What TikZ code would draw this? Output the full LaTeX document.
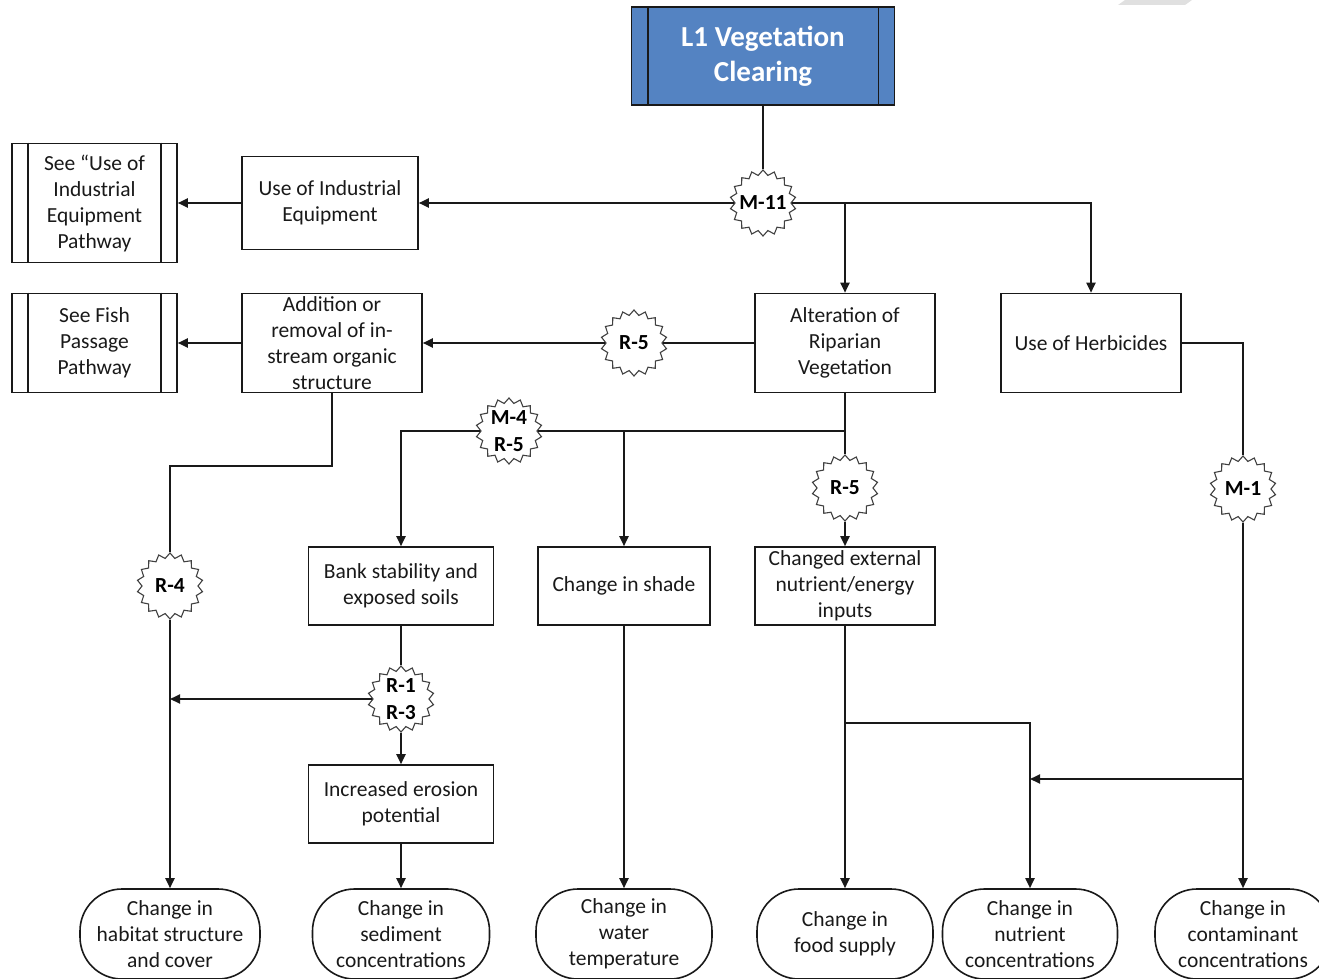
\documentclass[tikz,border=0pt]{standalone}
\usepackage{fontspec}
\setmainfont{Carlito}
\usetikzlibrary{shapes.geometric,arrows.meta}
\definecolor{titleblue}{RGB}{84,131,194}
\definecolor{ink}{RGB}{25,25,25}
\begin{document}
\begin{tikzpicture}[x=1pt,y=-1pt,
  box/.style={draw=ink, line width=1.6pt, align=center, inner sep=0pt,
    text=ink, font=\fontsize{21.5}{26}\selectfont},
  term/.style={box, rounded corners=42pt, minimum height=90pt},
  burst/.style={star, star points=18, star point ratio=1.18, minimum size=66pt,
    inner sep=0pt, draw=black!75, line width=1.1pt, fill=white},
  blabel/.style={font=\bfseries\fontsize{21.5}{27}\selectfont, align=center, text=black},
  link/.style={line width=1.9pt, draw=ink},
  arr/.style={link, -{Triangle[length=10pt,width=9pt]}}]
\useasboundingbox (0,0) rectangle (1319,979);
\clip (0,0) rectangle (1319,979);

% faint grey tab in the corner
\fill[black!12] (1118,5) -- (1125,0) -- (1192,0) -- (1185,5) -- cycle;

% top process
\node[box, fill=titleblue, minimum width=263pt, minimum height=98pt, text=white,
  font=\bfseries\fontsize{29}{35}\selectfont] (title) at (763,56) {L1 Vegetation\\Clearing};
\draw[line width=1.6pt, draw=ink] ([xshift=17pt]title.north west) -- ([xshift=17pt]title.south west)
  ([xshift=-17pt]title.north east) -- ([xshift=-17pt]title.south east);

% process boxes
\node[box, minimum width=176pt, minimum height=93pt] (indeq) at (330,203) {Use of Industrial\\Equipment};
\node[box, minimum width=180pt, minimum height=99pt] (add) at (332,343) {Addition or\\removal of in-\\stream organic\\structure};
\node[box, minimum width=180pt, minimum height=99pt] (alt) at (845,343) {Alteration of\\Riparian\\Vegetation};
\node[box, minimum width=180pt, minimum height=99pt] (herb) at (1091,343) {Use of Herbicides};
\node[box, minimum width=185pt, minimum height=78pt] (bank) at (401,586) {Bank stability and\\exposed soils};
\node[box, minimum width=172pt, minimum height=78pt] (shade) at (624,586) {Change in shade};
\node[box, minimum width=180pt, minimum height=78pt] (ext) at (845,586) {Changed external\\nutrient/energy\\inputs};
\node[box, minimum width=185pt, minimum height=78pt] (eros) at (401,804) {Increased erosion\\potential};

% referenced pathways
\node[box, minimum width=165pt, minimum height=119pt] (seeind) at (94.5,203) {See “Use of\\Industrial\\Equipment\\Pathway};
\node[box, minimum width=165pt, minimum height=99pt] (seefish) at (94.5,343) {See Fish\\Passage\\Pathway};
\foreach \n in {seeind,seefish}{
  \draw[line width=1.6pt, draw=ink] ([xshift=17pt]\n.north west) -- ([xshift=17pt]\n.south west)
    ([xshift=-17pt]\n.north east) -- ([xshift=-17pt]\n.south east);
}

% outcomes
\node[term, minimum width=180pt] (habit) at (170,934) {Change in\\habitat structure\\and cover};
\node[term, minimum width=177pt] (sed) at (401,934) {Change in\\sediment\\concentrations};
\node[term, minimum width=176pt] (water) at (624,934) {Change in\\water\\temperature};
\node[term, minimum width=176pt] (food) at (845,934) {Change in\\food supply};
\node[term, minimum width=175pt] (nutr) at (1030,934) {Change in\\nutrient\\concentrations};
\node[term, minimum width=176pt] (contam) at (1243,934) {Change in\\contaminant\\concentrations};

% mechanism markers
\node[burst, label={[blabel]center:M-11}] (m11) at (763,203) {};
\node[burst, label={[blabel]center:R-5}] (r5a) at (634,343) {};
\node[burst, label={[blabel]center:M-4\\R-5}] (m4r5) at (509,431) {};
\node[burst, label={[blabel]center:R-5}] (r5b) at (845,488) {};
\node[burst, label={[blabel]center:M-1}] (m1) at (1243,489) {};
\node[burst, label={[blabel]center:R-4}] (r4) at (170,586) {};
\node[burst, label={[blabel]center:R-1\\R-3}] (r13) at (401,699) {};

% junction points
\coordinate (ja) at (332,466);
\coordinate (jf) at (845,723);
\coordinate (jc) at (1243,779);

% connectors
\draw[link] (title.south) -- (m11.north);
\draw[arr] (m11.west) -- (indeq.east);
\draw[arr] (indeq.west) -- (seeind.east);
\draw[arr] (m11.east) -| (herb.north);
\draw[arr] (alt.north |- m11.east) -- (alt.north);

\draw[link] (alt.west) -- (r5a.east);
\draw[arr] (r5a.west) -- (add.east);
\draw[arr] (add.west) -- (seefish.east);

\draw[link] (herb.east) -| (m1.north);
\draw[arr] (m1.south) -- (contam.north);
\draw[arr] (jc) -- (nutr.north |- jc);

\draw[link] (alt.south) -- (r5b.north);
\draw[arr] (r5b.south) -- (ext.north);
\draw[link] (alt.south |- m4r5.east) -- (m4r5.east);
\draw[arr] (m4r5.west) -| (bank.north);
\draw[arr] (shade.north |- m4r5.east) -- (shade.north);

\draw[link] (add.south) -- (ja) -| (r4.north);
\draw[arr] (r4.south) -- (habit.north);

\draw[link] (bank.south) -- (r13.north);
\draw[arr] (r13.south) -- (eros.north);
\draw[arr] (r13.west) -- (habit.north |- r13.west);
\draw[arr] (eros.south) -- (sed.north);

\draw[arr] (shade.south) -- (water.north);
\draw[arr] (ext.south) -- (food.north);
\draw[arr] (jf) -| (nutr.north);
\end{tikzpicture}
\end{document}
